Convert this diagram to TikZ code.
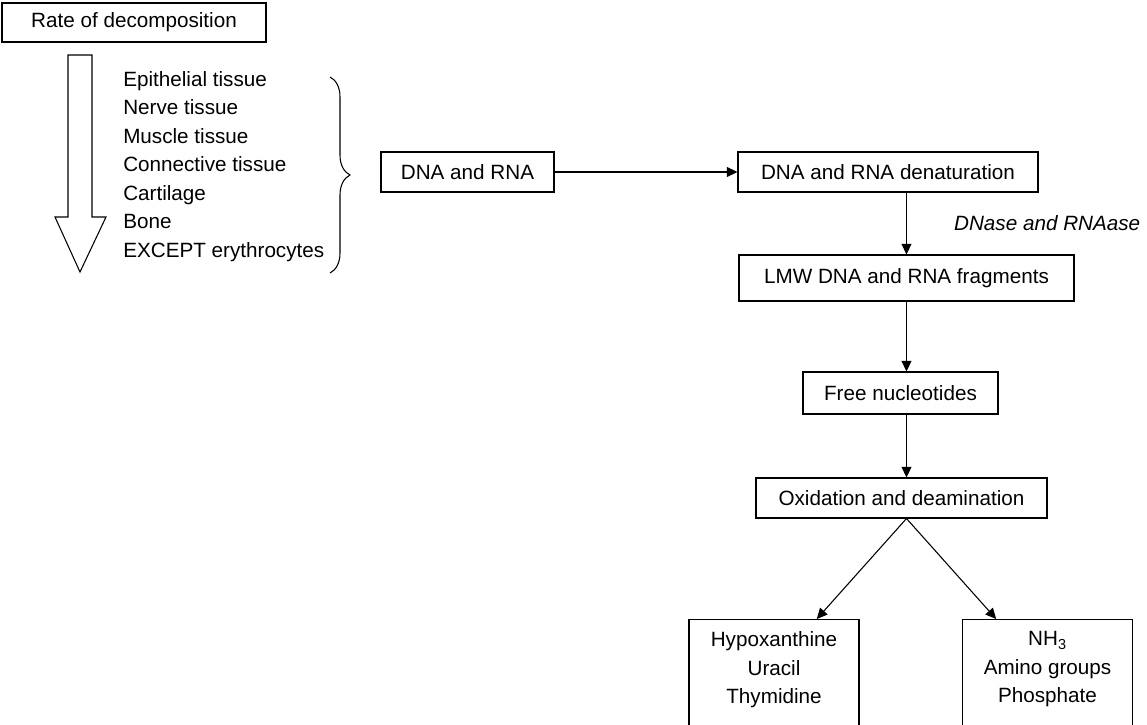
\documentclass[tikz,border=0pt]{standalone}
\usepackage{fontspec}
\setmainfont{Liberation Sans}
\usetikzlibrary{shapes,positioning,arrows.meta,decorations.pathreplacing,calc}

\begin{document}
\begin{tikzpicture}[
        x=0.75pt, y=-0.75pt,
        font=\fontsize{15.5}{21.4}\selectfont,
        procbox/.style={rectangle, draw=black, line width=0.8pt, inner sep=0pt, align=center},
        prodbox/.style={rectangle, draw=black, line width=0.8pt, anchor=north, align=center, minimum width=127.5pt, inner xsep=0pt, inner ysep=9pt, text depth=80pt},
        listtext/.style={align=left, inner sep=0pt, anchor=north west},
        flow/.style={-{Triangle[length=8pt, width=7.5pt]}, line width=0.8pt}
    ]
        \useasboundingbox (0,0) rectangle (1147,725);
        \clip (0,0) rectangle (1147,725);

        % Rate of decomposition
        \node[procbox, minimum width=198pt, minimum height=29.25pt] (rate) at (134,22.5) {Rate of decomposition};
        \draw[line width=0.8pt] (68,55) -- (92,55) -- (92,217) -- (106,217) -- (80,272) -- (55,217) -- (68,217) -- cycle;

        % Tissues
        \node[listtext] (tissues) at (123,71) {Epithelial tissue\\Nerve tissue\\Muscle tissue\\Connective tissue\\Cartilage\\Bone\\EXCEPT erythrocytes};
        \draw[line width=0.8pt, decorate, decoration={brace, amplitude=15pt, aspect=0.5}] (330,77) -- (330,273);

        % Main chain
        \node[procbox, minimum width=129.75pt, minimum height=30pt] (dna) at (467.5,172) {DNA and RNA};
        \node[procbox, minimum width=225pt, minimum height=30pt] (denat) at (888,172) {DNA and RNA denaturation};
        \node[procbox, minimum width=251.25pt, minimum height=34.5pt] (lmw) at (906.5,278) {LMW DNA and RNA fragments};
        \node[procbox, minimum width=146.25pt, minimum height=31.5pt] (free) at (900.5,393) {Free nucleotides};
        \node[procbox, minimum width=218.25pt, minimum height=30pt] (oxid) at (901.5,498) {Oxidation and deamination};

        % Products
        \node[prodbox] (purines) at (774,619) {Hypoxanthine\\Uracil\\Thymidine};
        \node[prodbox] (amines) at (1047.5,619) {NH\textsubscript{3}\\Amino groups\\Phosphate};

        % Connections
        \draw[flow] (dna) -- (denat);
        \draw[flow] (denat.south -| lmw.north) -- (lmw.north)
            node[midway, right=32pt, font=\fontsize{15.5}{21.4}\selectfont\itshape] (enzymes) {DNase and RNAase};
        \draw[flow] (lmw.south) -- (free.north -| lmw.south);
        \draw[flow] (free.south -| lmw.south) -- (oxid.north -| lmw.south);
        \draw[flow] (oxid.south -| lmw.south) -- ($(purines.north)!0.5!(purines.north east)$);
        \draw[flow] (oxid.south -| lmw.south) -- ($(amines.north)!0.6!(amines.north west)$);
    \end{tikzpicture}
\end{document}
